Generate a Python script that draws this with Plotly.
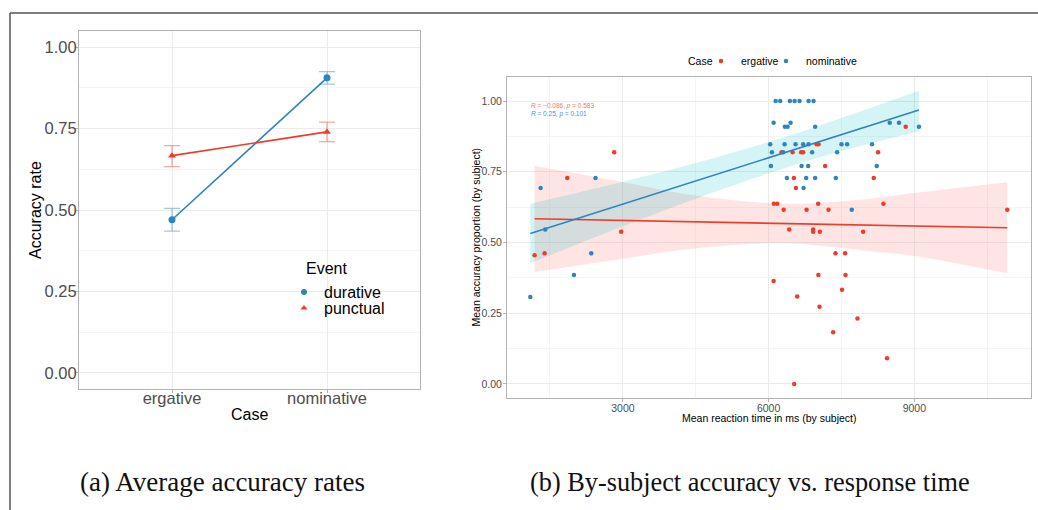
import plotly.graph_objects as go

W, H = 1038, 510


def px(x):
    return x / W


def py(y):
    return 1 - y / H


BLUE = "#3182BD"
RED = "#EE3B2B"
FONT = "Liberation Sans"

# ---------------- left panel: average accuracy rates ----------------
cases = ["ergative", "nominative"]
durative_mean = [0.470, 0.906]
durative_lo = [0.435, 0.887]
durative_hi = [0.505, 0.925]
punctual_mean = [0.667, 0.740]
punctual_lo = [0.633, 0.710]
punctual_hi = [0.698, 0.770]

# ---------------- right panel: by-subject accuracy vs RT ----------------
erg_rt = [8822, 6987, 7028, 6267, 6494, 6670, 6711, 8253, 2821, 7163,
          6520, 8164, 1855, 6561, 6109, 6177, 7020, 8363, 6309, 6781,
          7233, 10912, 6424, 6917, 6917, 7055, 7945, 2965, 7377, 7575,
          1389, 1183, 7024, 7583, 6103, 7511, 6588, 7048, 7829, 7328,
          8438, 6527]
erg_acc = [0.909, 0.847, 0.847, 0.819, 0.819, 0.819, 0.819, 0.819, 0.819, 0.770,
           0.728, 0.728, 0.728, 0.693, 0.637, 0.637, 0.637, 0.637, 0.616, 0.616,
           0.616, 0.616, 0.546, 0.546, 0.538, 0.538, 0.538, 0.538, 0.462, 0.462,
           0.462, 0.455, 0.385, 0.385, 0.364, 0.333, 0.309, 0.273, 0.231, 0.183,
           0.091, 0.000]

nom_rt = [6144, 6239, 6438, 6535, 6637, 6822, 6925,
          6103, 6452, 8493, 8684,
          6335, 6391, 6958, 9095,
          6033, 6329, 6555, 6711, 6822, 7500, 7616, 8129,
          6068, 6300, 6896, 7410,
          6048, 6678, 6814, 8226,
          6376, 6773, 6958, 7383, 2437,
          6720, 1307,
          7712, 1403, 2349, 1993, 1095]
nom_acc = [1.0, 1.0, 1.0, 1.0, 1.0, 1.0, 1.0,
           0.923, 0.923, 0.923, 0.923,
           0.909, 0.909, 0.909, 0.909,
           0.847, 0.847, 0.847, 0.847, 0.847, 0.847, 0.847, 0.847,
           0.819, 0.819, 0.819, 0.819,
           0.770, 0.770, 0.770, 0.770,
           0.728, 0.728, 0.728, 0.728, 0.728,
           0.693, 0.693,
           0.616, 0.546, 0.462, 0.385, 0.307]

# fitted lines and confidence bands
erg_fit_x = [1183, 10912]
erg_fit_y = [0.584, 0.552]
nom_fit_x = [1095, 9095]
nom_fit_y = [0.532, 0.968]

erg_band_x = [1183, 3000, 4500, 6300, 8000, 9000, 10912]
erg_band_lo = [0.396, 0.443, 0.480, 0.497, 0.471, 0.452, 0.391]
erg_band_hi = [0.771, 0.713, 0.666, 0.637, 0.653, 0.675, 0.713]
nom_band_x = [1095, 3000, 4500, 6300, 7500, 9095]
nom_band_lo = [0.427, 0.557, 0.655, 0.761, 0.823, 0.893]
nom_band_hi = [0.637, 0.715, 0.781, 0.871, 0.940, 1.036]

erg_stat = "<i>R</i> = \u22120.086, <i>p</i> = 0.583"
nom_stat = "<i>R</i> = 0.25, <i>p</i> = 0.101"

fig = go.Figure()

# ---- left traces ----
for name, m, lo, hi, col, ecol, sym, leg in [
    ("durative", durative_mean, durative_lo, durative_hi, BLUE, "rgba(49,130,189,0.45)", "circle", "legend"),
    ("punctual", punctual_mean, punctual_lo, punctual_hi, RED, "rgba(238,59,43,0.45)", "triangle-up", "legend3"),
]:
    fig.add_trace(go.Scatter(
        x=cases, y=m, mode="lines+markers", xaxis="x", yaxis="y",
        error_y=dict(type="data", symmetric=False,
                     array=[h - v for h, v in zip(hi, m)],
                     arrayminus=[v - l for v, l in zip(m, lo)],
                     color=ecol, thickness=1.3, width=8),
        line=dict(color=col, width=1.6),
        marker=dict(symbol=sym, size=7, color=col),
        showlegend=False, name=name))
    fig.add_trace(go.Scatter(
        x=[None], y=[None], mode="markers", xaxis="x", yaxis="y",
        marker=dict(symbol=sym, size=6, color=col),
        name=name, legend=leg, showlegend=True))

# ---- right traces ----
for bx, blo, bhi, fcol in [
    (erg_band_x, erg_band_lo, erg_band_hi, "rgba(248,118,109,0.2)"),
    (nom_band_x, nom_band_lo, nom_band_hi, "rgba(0,191,196,0.17)"),
]:
    fig.add_trace(go.Scatter(x=bx, y=blo, mode="lines", xaxis="x2", yaxis="y2",
                             line=dict(width=0, shape="spline"), showlegend=False,
                             hoverinfo="skip"))
    fig.add_trace(go.Scatter(x=bx, y=bhi, mode="lines", xaxis="x2", yaxis="y2",
                             line=dict(width=0, shape="spline"), fill="tonexty",
                             fillcolor=fcol, showlegend=False, hoverinfo="skip"))

fig.add_trace(go.Scatter(x=erg_rt, y=erg_acc, mode="markers", xaxis="x2", yaxis="y2",
                         marker=dict(size=4.5, color=RED), name="ergative",
                         legend="legend4"))
fig.add_trace(go.Scatter(x=nom_rt, y=nom_acc, mode="markers", xaxis="x2", yaxis="y2",
                         marker=dict(size=4.5, color=BLUE), name="nominative",
                         legend="legend5"))
fig.add_trace(go.Scatter(x=erg_fit_x, y=erg_fit_y, mode="lines", xaxis="x2", yaxis="y2",
                         line=dict(color=RED, width=1.6), showlegend=False))
fig.add_trace(go.Scatter(x=nom_fit_x, y=nom_fit_y, mode="lines", xaxis="x2", yaxis="y2",
                         line=dict(color=BLUE, width=1.6), showlegend=False))

GRID = "#ebebeb"
MINOR = "#f4f4f4"
BORDER = "#b3b3b3"
TICKC = "#4d4d4d"

common = dict(showline=True, mirror=True, linecolor=BORDER, linewidth=1,
              ticks="outside", tickcolor=BORDER, zeroline=False,
              showgrid=True, gridcolor=GRID, gridwidth=1)


def leg(x, y, size):
    return dict(font=dict(size=size), x=px(x), y=py(y), xanchor="left", yanchor="middle",
                bgcolor="rgba(0,0,0,0)", itemwidth=30, traceorder="normal")


fig.update_layout(
    width=W, height=H, margin=dict(l=0, r=0, t=0, b=0),
    paper_bgcolor="white", plot_bgcolor="white",
    font=dict(family=FONT, color="black"),
    xaxis=dict(domain=[px(79), px(420)], anchor="y", type="category",
               range=[-0.6, 1.6], ticklen=3, ticklabelstandoff=-9,
               tickfont=dict(size=16.5, color=TICKC), **common),
    yaxis=dict(domain=[py(389), py(31)], anchor="x", range=[-0.05, 1.05],
               tickmode="linear", tick0=0, dtick=0.25, tickformat=".2f", ticklen=3,
               ticklabelstandoff=-5,
               tickfont=dict(size=16.5, color=TICKC),
               minor=dict(dtick=0.125, tick0=0, showgrid=True, gridcolor=MINOR, ticks=""),
               **common),
    xaxis2=dict(domain=[px(507), px(1031)], anchor="y2", range=[615, 11401],
                tickmode="linear", tick0=0, dtick=3000, tickformat="d", ticklen=3,
                ticklabelstandoff=-3,
                tickfont=dict(size=10.5, color=TICKC),
                minor=dict(dtick=1500, tick0=0, showgrid=True, gridcolor=MINOR, ticks=""),
                **common),
    yaxis2=dict(domain=[py(398), py(77)], anchor="x2", range=[-0.0495, 1.0848],
                tickmode="linear", tick0=0, dtick=0.25, tickformat=".2f", ticklen=3,
                ticklabelstandoff=-1,
                tickfont=dict(size=10.5, color=TICKC),
                minor=dict(dtick=0.125, tick0=0, showgrid=True, gridcolor=MINOR, ticks=""),
                **common),
    legend=leg(284, 292, 16),
    legend3=leg(284, 308, 16),
    legend4=leg(701, 61, 10.5),
    legend5=leg(766, 61, 10.5),
    showlegend=True,
)

ann = [
    dict(text="Accuracy rate", x=px(35), y=py(210), textangle=-90, font=dict(size=16)),
    dict(text="Case", x=px(249.5), y=py(414), font=dict(size=16)),
    dict(text="Event", x=px(304), y=py(268), xanchor="left", font=dict(size=16)),
    dict(text="Case", x=px(686), y=py(61), xanchor="left", font=dict(size=10.5)),
    dict(text="Mean reaction time in ms (by subject)", x=px(769), y=py(417.5),
         font=dict(size=10.5)),
    dict(text="Mean accuracy proportion (by subject)", x=px(475), y=py(237.5),
         textangle=-90, font=dict(size=10.5)),
    dict(text=erg_stat, x=px(529), y=py(106), xanchor="left",
         font=dict(size=6.5, color="#F8766D")),
    dict(text=nom_stat, x=px(529), y=py(114), xanchor="left",
         font=dict(size=6.5, color="#4A93CC")),
    dict(text="(a) Average accuracy rates", x=px(222), y=py(482),
         font=dict(size=27, family="Liberation Serif", color="#111")),
    dict(text="(b) By-subject accuracy vs. response time", x=px(750), y=py(482),
         font=dict(size=26.3, family="Liberation Serif", color="#111")),
]
for a in ann:
    a.setdefault("xanchor", "center")
    a.update(xref="paper", yref="paper", showarrow=False, yanchor="middle")
    fig.add_annotation(**a)

fig.add_shape(type="line", xref="paper", yref="paper", x0=px(10), y0=py(13), x1=1, y1=py(13),
              line=dict(color="#555555", width=1.5))
fig.add_shape(type="line", xref="paper", yref="paper", x0=px(10), y0=py(13), x1=px(10), y1=0,
              line=dict(color="#555555", width=1.5))

fig.write_html("out.html", config={"displayModeBar": False},
               post_script="document.body.style.margin='0px';document.body.style.overflow='hidden';")
